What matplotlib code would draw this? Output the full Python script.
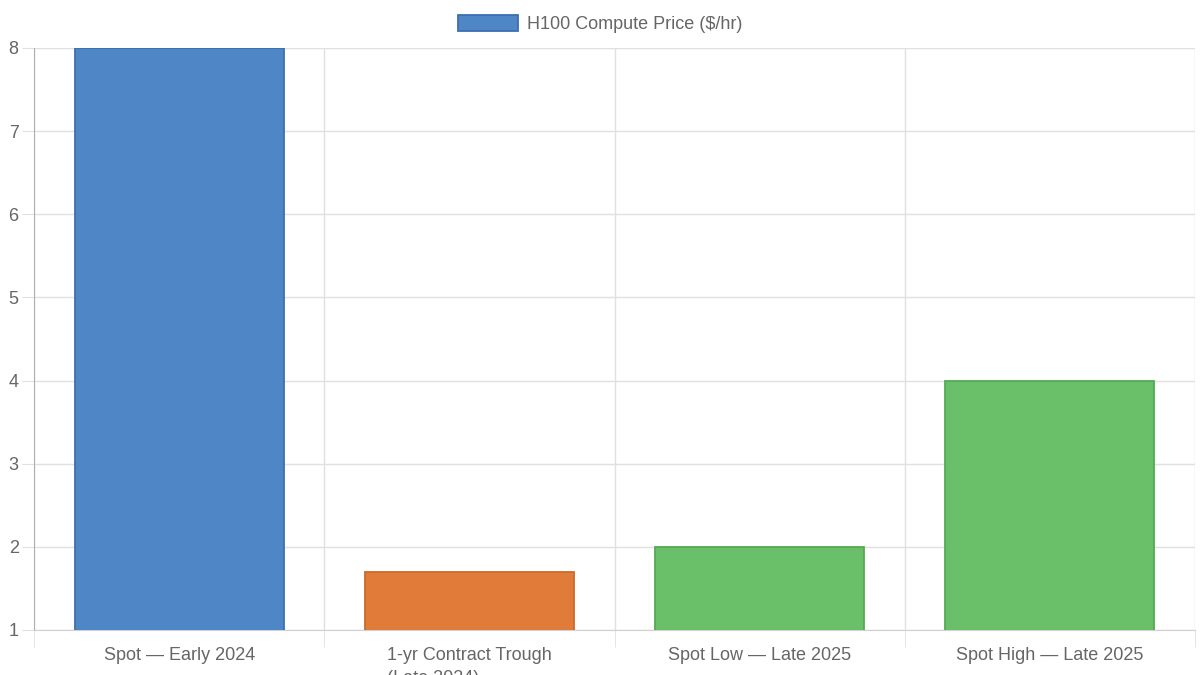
import matplotlib.pyplot as plt
from matplotlib.patches import Patch
import numpy as np

# data
labels = ["Spot — Early 2024", "1-yr Contract Trough\n(Late 2024)",
          "Spot Low — Late 2025", "Spot High — Late 2025"]
prices = [8, 1.7, 2, 4]
fills = ["#4f86c6", "#e07b3a", "#6abf69", "#6abf69"]
edges = ["#3d6fb0", "#cc6a2c", "#55a955", "#55a955"]
yticks = [1, 2, 3, 4, 5, 6, 7, 8]

plt.rcParams['font.family'] = ['Liberation Sans', 'DejaVu Sans']
txt = "#666666"

fig = plt.figure(figsize=(12, 6.75), dpi=100)
ax = fig.add_axes([34/1200, 1 - 630/675, (1195-34)/1200, (630-48)/675])

x = np.arange(len(prices))
ax.bar(x, prices, width=0.72, color=fills, edgecolor=edges, linewidth=1.3, zorder=3)

ax.set_xlim(-0.5, len(prices) - 0.5)
ax.set_ylim(1, 8)

# y axis
ax.set_yticks(yticks)
ax.tick_params(axis='y', length=9, color="#e0e0e0", labelsize=13, labelcolor=txt, pad=2)
ax.yaxis.grid(True, color="#e0e0e0", linewidth=1, zorder=0)

# x axis: labels at centres, grid lines at category boundaries
ax.set_xticks(x)
ax.set_xticklabels(labels, fontsize=13, color=txt, linespacing=1.45,
                   multialignment='left')
ax.tick_params(axis='x', which='major', length=0, pad=12)
ax.set_xticks(np.arange(-0.5, len(prices)), minor=True)
ax.tick_params(axis='x', which='minor', length=12, color="#e0e0e0")
ax.xaxis.grid(True, which='minor', color="#e0e0e0", linewidth=1, zorder=0)

for side in ['top', 'right']:
    ax.spines[side].set_visible(False)
ax.spines['left'].set_color("#b0b0b0")
ax.spines['bottom'].set_color("#d0d0d0")

# legend on top
handle = Patch(facecolor=fills[0], edgecolor=edges[0], linewidth=1.3)
fig.legend([handle], ["H100 Compute Price ($/hr)"], loc='center',
           bbox_to_anchor=(600/1200, 1 - 24/675), frameon=False,
           fontsize=13, labelcolor=txt, handlelength=3.3, handleheight=1.0,
           handletextpad=0.5)

fig.savefig("out.png", dpi=100)
